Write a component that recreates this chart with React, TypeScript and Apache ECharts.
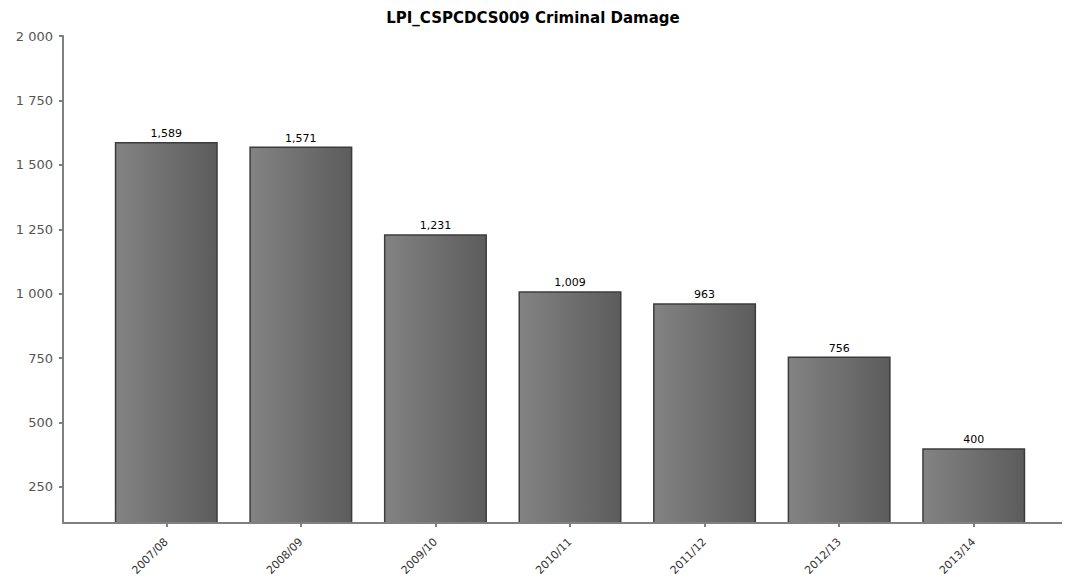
import React, { useEffect, useRef } from "react";
import * as echarts from "echarts";

const categories = ["2007/08", "2008/09", "2009/10", "2010/11", "2011/12", "2012/13", "2013/14"];
const values = [1589, 1571, 1231, 1009, 963, 756, 400];
const yTicks = [250, 500, 750, 1000, 1250, 1500, 1750, 2000];

export default function App() {
  const ref = useRef<HTMLDivElement>(null);
  useEffect(() => {
    const chart = echarts.init(ref.current!, null, { renderer: "svg" });
    const font = "Tahoma, 'DejaVu Sans', Verdana, sans-serif";
    chart.setOption({
      animation: false,
      backgroundColor: "#ffffff",
      title: {
        text: "LPI_CSPCDCS009 Criminal Damage",
        left: "center",
        top: 5,
        textStyle: { fontFamily: font, fontSize: 15, fontWeight: "bold", color: "#000" },
      },
      grid: { left: 99, right: 25, top: 36, bottom: 62 },
      graphic: [
        {
          type: "line",
          shape: { x1: 63, y1: 523, x2: 1062, y2: 523 },
          style: { stroke: "#808080", lineWidth: 2 },
          z: 10,
        },
      ],
      xAxis: {
        type: "category",
        data: categories,
        axisLine: { show: false },
        axisTick: { show: true, alignWithLabel: true, length: 4, lineStyle: { color: "#808080", width: 2 } },
        axisLabel: {
          rotate: 45,
          fontFamily: font,
          fontSize: 11,
          color: "#333",
          margin: 17,
        },
      },
      yAxis: {
        type: "value",
        min: 110,
        max: 2000,
        offset: 36,
        splitLine: { show: false },
        axisLine: { show: true, lineStyle: { color: "#808080", width: 2 } },
        axisTick: { show: true, length: 4, customValues: yTicks, lineStyle: { color: "#808080", width: 2 } },
        axisLabel: {
          customValues: yTicks,
          fontFamily: font,
          fontSize: 13,
          color: "#555",
          margin: 10,
          formatter: (v: number) => {
            const s = String(Math.round(v));
            return s.length > 3 ? s.slice(0, s.length - 3) + " " + s.slice(-3) : s;
          },
        },
      },
      series: [
        {
          type: "bar",
          data: values,
          barWidth: 103,
          itemStyle: {
            color: new echarts.graphic.LinearGradient(0, 0, 1, 0, [
              { offset: 0, color: "#838383" },
              { offset: 1, color: "#5c5c5c" },
            ]),
            borderColor: "#3c3c3c",
            borderWidth: 1.5,
          },
          label: {
            show: true,
            position: "top",
            distance: 3,
            fontFamily: font,
            fontSize: 11,
            color: "#000",
            formatter: (p: any) => Number(p.value).toLocaleString("en-US"),
          },
        },
      ],
    });
    return () => chart.dispose();
  }, []);
  return <div ref={ref} style={{ width: 1066, height: 585, position: "absolute", left: 0, top: 0 }} />;
}
